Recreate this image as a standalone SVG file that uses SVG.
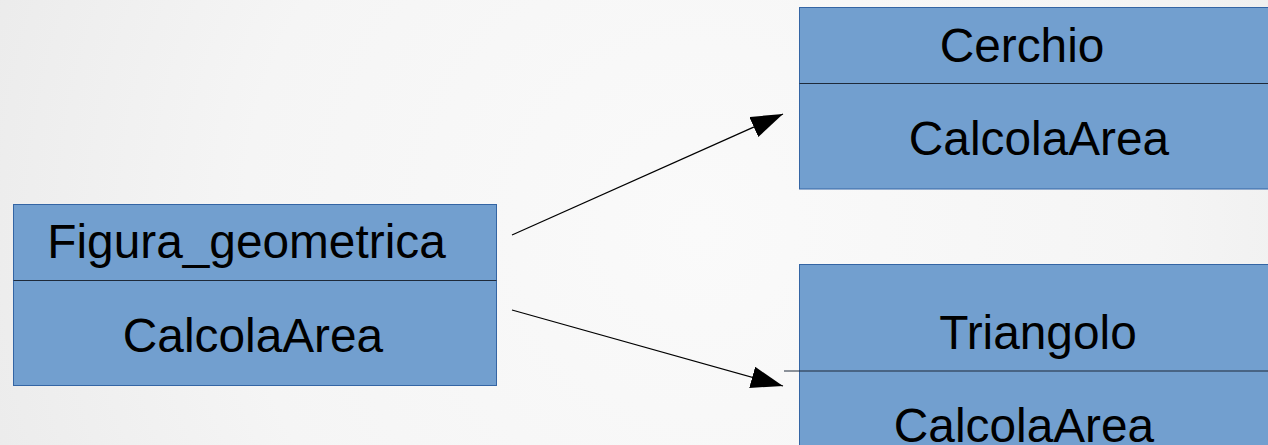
<svg xmlns="http://www.w3.org/2000/svg" width="1268" height="445" viewBox="0 0 1268 445">
<defs>
<radialGradient id="bg" cx="700" cy="230" r="760" gradientUnits="userSpaceOnUse">
<stop offset="0" stop-color="#fafafa"/>
<stop offset="0.6" stop-color="#f5f5f5"/>
<stop offset="1" stop-color="#ebebeb"/>
</radialGradient>
<marker id="ah" markerUnits="userSpaceOnUse" markerWidth="34" markerHeight="24" refX="32" refY="11" orient="auto" viewBox="0 0 34 24">
<path d="M0,0 L32,11 L0,22 Z" fill="#000"/>
</marker>
<style>
.box{fill:#729fcf;stroke:#3465a4;stroke-width:1}
.div{stroke:#1e2a3a;stroke-width:1.2}
.t{font-family:"Liberation Sans",Arial,sans-serif;font-size:47.8px;fill:#000;text-anchor:middle}
.c{stroke:#000;stroke-width:1.2;fill:none}
</style>
</defs>
<rect width="1268" height="445" fill="url(#bg)"/>
<g id="figura">
<rect class="box" x="13.5" y="204.5" width="483" height="181"/>
<line class="div" x1="13.5" y1="280.5" x2="496.5" y2="280.5"/>
<text class="t" x="246.5" y="258">Figura_geometrica</text>
<text class="t" x="253" y="352">CalcolaArea</text>
</g>
<g id="cerchio">
<rect class="box" x="799.5" y="7.5" width="480" height="181.5"/>
<line class="div" x1="799.5" y1="83.5" x2="1279" y2="83.5"/>
<text class="t" x="1022" y="62">Cerchio</text>
<text class="t" x="1039" y="155">CalcolaArea</text>
</g>
<g id="triangolo">
<rect class="box" x="799.5" y="264.5" width="480" height="200"/>
<line class="div" x1="784" y1="371" x2="1279" y2="371"/>
<text class="t" x="1038" y="349">Triangolo</text>
<text class="t" x="1024" y="442">CalcolaArea</text>
</g>
<g id="connectors">
<line class="c" x1="512" y1="235" x2="783" y2="114" marker-end="url(#ah)"/>
<line class="c" x1="512" y1="310" x2="783" y2="386" marker-end="url(#ah)"/>
</g>
</svg>
